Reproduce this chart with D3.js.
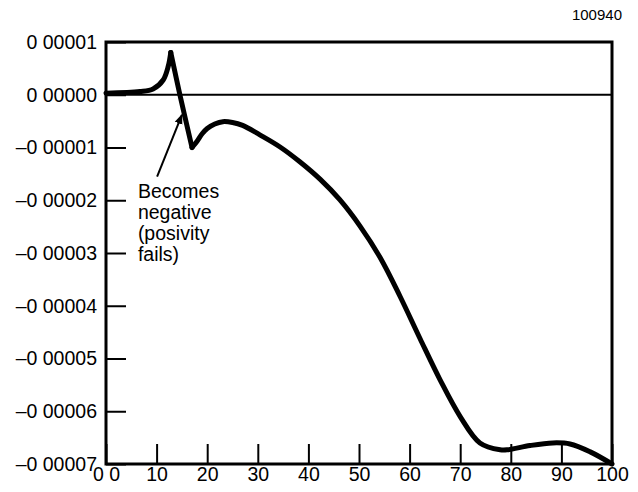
<!DOCTYPE html>
<html>
<head>
<meta charset="utf-8">
<script src="https://cdn.jsdelivr.net/npm/d3@7"></script>
<style>
  body { margin: 0; background: #fff; }
  text { font-family: "Liberation Sans", Arial, sans-serif; fill: #000; }
</style>
</head>
<body>
<div id="chart"></div>
<script>
// x values and the curve
const xs = [0, 6.7, 9.3, 11.3, 12.3, 12.8, 14.6, 17.0, 18.0, 19.0, 20.0, 21.5, 23.1, 25.0, 27.0, 30.4, 34.4, 38.3,
    42.3, 46.2, 50.2, 54.2, 58.1, 62.1, 66.0, 70.0, 73.9, 77.9, 79.4, 83.8, 88.3, 91.7, 95.7, 100];
const ys = [0.3e-6, 0.6e-6, 1.1e-6, 2.8e-6, 5.4e-6, 8.0e-6, 0.0, -10.0e-6, -8.8e-6, -7.4e-6, -6.4e-6, -5.55e-6,
    -5.1e-6, -5.25e-6, -5.8e-6, -7.6e-6, -9.9e-6, -12.7e-6, -16.0e-6, -19.9e-6, -24.9e-6, -30.9e-6,
    -38.2e-6, -46.3e-6, -54.0e-6, -61.0e-6, -66.0e-6, -67.3e-6, -67.3e-6, -66.5e-6, -66.0e-6, -66.2e-6,
    -67.7e-6, -70.0e-6];
// the two sharp corners split the curve
const cuspIdx = [5, 7];

const xTicks = [0, 10, 20, 30, 40, 50, 60, 70, 80, 90, 100];
const xLabels = ["0 0", "10", "20", "30", "40", "50", "60", "70", "80", "90", "100"];
const yTicks = [1e-5, 0, -1e-5, -2e-5, -3e-5, -4e-5, -5e-5, -6e-5, -7e-5];
const yLabels = ["0 00001", "0 00000", "\u20130 00001", "\u20130 00002", "\u20130 00003",
    "\u20130 00004", "\u20130 00005", "\u20130 00006", "\u20130 00007"];

const note = ["Becomes", "negative", "(posivity", "fails)"];
const figId = "100940";

const margin = {top: 42, right: 26, bottom: 28, left: 106};
const W = 638, H = 492;
const width = W - margin.left - margin.right;
const height = H - margin.top - margin.bottom;

const svg = d3.select("#chart").append("svg")
    .attr("width", W)
    .attr("height", H);

const g = svg.append("g")
    .attr("transform", "translate(" + margin.left + "," + margin.top + ")");

const x = d3.scaleLinear().domain([0, 100]).range([0, width]);
const y = d3.scaleLinear().domain([-7e-5, 1e-5]).range([height, 0]);

// axes: ticks point into the plot
const yAxis = d3.axisLeft(y)
    .tickValues(yTicks)
    .tickFormat((d, i) => yLabels[i])
    .tickSize(-20)
    .tickSizeOuter(0)
    .tickPadding(9);

const xAxis = d3.axisBottom(x)
    .tickValues(xTicks)
    .tickFormat((d, i) => xLabels[i])
    .tickSize(-20)
    .tickSizeOuter(0)
    .tickPadding(3);

const gy = g.append("g").call(yAxis);
const gx = g.append("g").attr("transform", "translate(0," + height + ")").call(xAxis);

[gy, gx].forEach(a => {
    a.select(".domain").remove();
    a.selectAll(".tick line").attr("stroke", "#000").attr("stroke-width", 2);
    a.selectAll(".tick text")
        .style("font-family", '"Liberation Sans", Arial, sans-serif')
        .style("font-size", "19.5px")
        .attr("fill", "#000");
});

// zero line
g.append("line")
    .attr("x1", 0).attr("x2", width)
    .attr("y1", y(0)).attr("y2", y(0))
    .attr("stroke", "#000").attr("stroke-width", 2);

// frame
g.append("rect")
    .attr("width", width).attr("height", height)
    .attr("fill", "none")
    .attr("stroke", "#000").attr("stroke-width", 3);

// curve, drawn in pieces so the corners stay sharp
const pts = xs.map((d, i) => [d, ys[i]]);
const line = d3.line()
    .x(d => x(d[0]))
    .y(d => y(d[1]))
    .curve(d3.curveCatmullRom.alpha(0.5));

const bounds = [0].concat(cuspIdx, [pts.length - 1]);
for (let k = 0; k < bounds.length - 1; k++) {
    g.append("path")
        .datum(pts.slice(bounds[k], bounds[k + 1] + 1))
        .attr("d", line)
        .attr("fill", "none")
        .attr("stroke", "#000")
        .attr("stroke-width", 5)
        .attr("stroke-linejoin", "round")
        .attr("stroke-linecap", "round");
}

// annotation arrow
svg.append("defs").append("marker")
    .attr("id", "arrow")
    .attr("viewBox", "0 0 10 10")
    .attr("refX", 9).attr("refY", 5)
    .attr("markerWidth", 5).attr("markerHeight", 5)
    .attr("orient", "auto")
    .append("path")
    .attr("d", "M0,1 L10,5 L0,9 Z")
    .attr("fill", "#000");

g.append("line")
    .attr("x1", x(10.1)).attr("y1", y(-1.55e-5))
    .attr("x2", x(15.0)).attr("y2", y(-0.38e-5))
    .attr("stroke", "#000").attr("stroke-width", 2)
    .attr("marker-end", "url(#arrow)");

g.append("text")
    .attr("x", x(6.3))
    .attr("y", y(-1.95e-5))
    .style("font-size", "19.5px")
    .selectAll("tspan")
    .data(note)
    .join("tspan")
    .attr("x", x(6.3))
    .attr("dy", (d, i) => i === 0 ? 0 : 21)
    .text(d => d);

svg.append("text")
    .attr("x", 622).attr("y", 20)
    .attr("text-anchor", "end")
    .style("font-size", "15px")
    .text(figId);
</script>
</body>
</html>
